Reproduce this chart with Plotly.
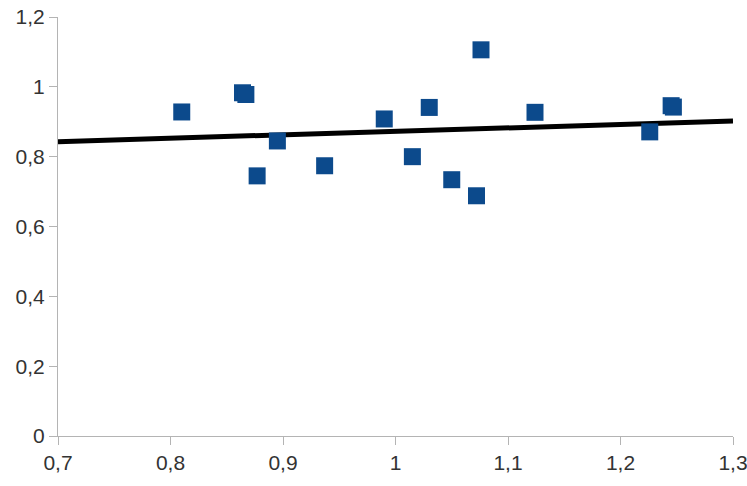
import plotly.graph_objects as go

# Measured pairs
x_vals = [0.810, 0.864, 0.867, 0.877, 0.895, 0.937, 0.990, 1.015, 1.030,
          1.050, 1.072, 1.076, 1.124, 1.226, 1.245, 1.247]
y_vals = [0.928, 0.983, 0.978, 0.745, 0.845, 0.774, 0.908, 0.800, 0.941,
          0.734, 0.688, 1.106, 0.927, 0.871, 0.946, 0.942]

# Linear trend line end points
trend_x = [0.7, 1.3]
trend_y = [0.843, 0.902]

x_ticks = [0.7, 0.8, 0.9, 1.0, 1.1, 1.2, 1.3]
y_ticks = [0, 0.2, 0.4, 0.6, 0.8, 1.0, 1.2]

fig = go.Figure()
fig.add_trace(go.Scatter(
    x=trend_x, y=trend_y, mode="lines",
    line=dict(color="#000000", width=5),
    hoverinfo="skip", showlegend=False,
))
fig.add_trace(go.Scatter(
    x=x_vals, y=y_vals, mode="markers",
    marker=dict(symbol="square", size=17, color="#0c4a8c"),
    showlegend=False,
))

axis_common = dict(
    showgrid=False, zeroline=False, showline=True,
    linecolor="#b4b4b4", linewidth=1,
    ticks="outside", ticklen=8, tickcolor="#b4b4b4", tickwidth=1,
    ticklabeloverflow="allow",
    tickfont=dict(family="Liberation Sans, Arial, sans-serif", size=21, color="#333333"),
)

fig.update_xaxes(range=[0.7, 1.3], tickvals=x_ticks, **axis_common)
fig.update_yaxes(range=[0, 1.2], tickvals=y_ticks, **axis_common)

fig.update_layout(
    width=747, height=486,
    margin=dict(l=58, r=14, t=17, b=50, autoexpand=False),
    plot_bgcolor="white", paper_bgcolor="white",
    separators=", ",
)

fig.write_html("out.html")
